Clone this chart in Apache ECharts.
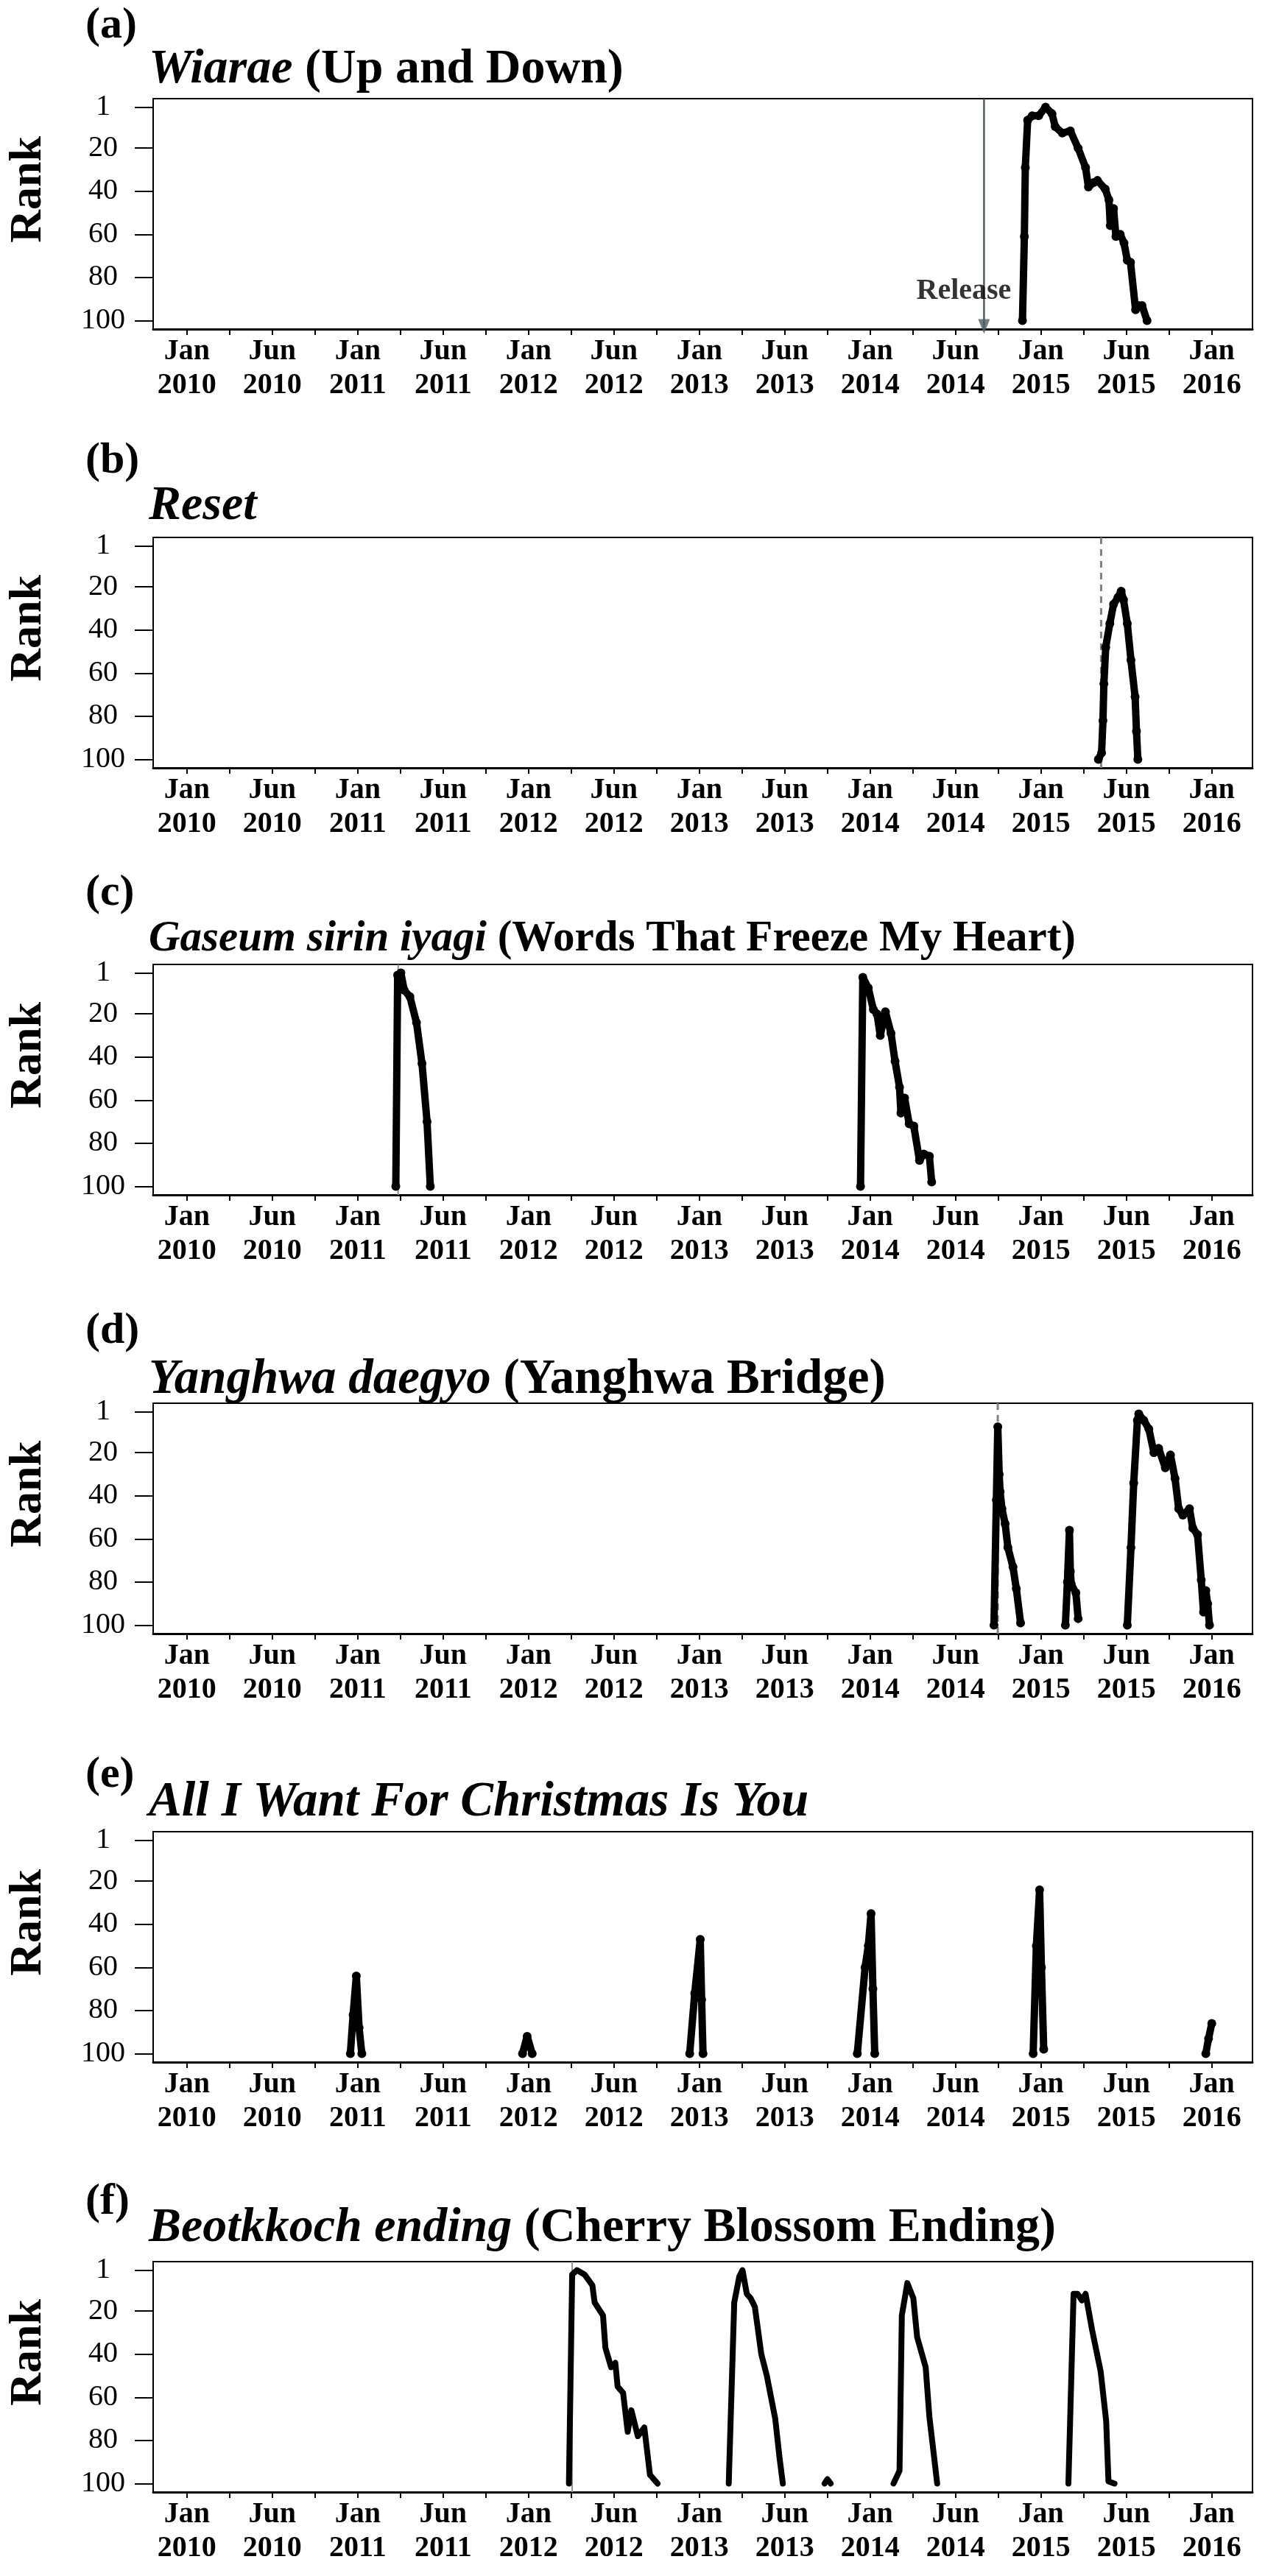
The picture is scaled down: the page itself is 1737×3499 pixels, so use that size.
<!DOCTYPE html>
<html>
<head>
<meta charset="utf-8">
<title>Chart rank trajectories</title>
<script src="https://cdn.jsdelivr.net/npm/echarts@6/dist/echarts.min.js"></script>
<style>body{margin:0;background:#fff}</style>
</head>
<body>
<div id="container" style="width:1737px;height:3499px"></div>
<script>
// ---- data: [date, rank], one array per chart run ----
const aRun1 = [['2014-11-22',100],['2014-11-26',61],['2014-11-28',29],['2014-12-03',7],['2014-12-13',5],['2014-12-27',5],
  ['2015-01-11',1],['2015-01-25',4],['2015-02-01',10],['2015-02-15',13],['2015-03-03',12],['2015-03-20',20],['2015-04-05',29],
  ['2015-04-11',38],['2015-04-22',36],['2015-04-30',35],['2015-05-17',39],['2015-05-25',44],['2015-05-28',56],['2015-06-04',48],
  ['2015-06-09',61],['2015-06-18',60],['2015-06-26',64],['2015-07-03',72],['2015-07-10',73],['2015-07-21',95],['2015-07-27',93],
  ['2015-08-04',93],['2015-08-15',100]];

const bRun1 = [['2015-05-02',100],['2015-05-09',97],['2015-05-12',82],['2015-05-14',65],['2015-05-18',48],['2015-05-27',37],
  ['2015-06-04',28],['2015-06-13',25],['2015-06-20',22],['2015-06-25',26],['2015-07-03',37],['2015-07-11',54],['2015-07-20',71],
  ['2015-07-23',87],['2015-07-26',100]];

const cRun1 = [['2011-03-22',100],['2011-03-26',2],['2011-04-02',1],['2011-04-09',9],['2011-04-21',12],['2011-05-05',24],
  ['2011-05-17',43],['2011-05-28',70],['2011-06-04',100]];
const cRun2 = [['2013-12-11',100],['2013-12-16',3],['2013-12-28',8],['2014-01-08',18],['2014-01-16',20],['2014-01-23',30],
  ['2014-02-03',19],['2014-02-14',29],['2014-02-22',42],['2014-03-03',54],['2014-03-06',66],['2014-03-14',59],['2014-03-24',71],
  ['2014-04-03',72],['2014-04-15',88],['2014-04-24',85],['2014-05-06',86],['2014-05-11',98]];

const dRun1 = [['2014-09-22',100],['2014-09-27',42],['2014-09-30',8],['2014-10-03',30],['2014-10-05',38],['2014-10-09',46],
  ['2014-10-16',53],['2014-10-22',64],['2014-11-02',73],['2014-11-09',83],['2014-11-18',99]];
const dRun2 = [['2015-02-21',100],['2015-02-25',80],['2015-03-01',56],['2015-03-03',75],['2015-03-05',81],['2015-03-15',85],
  ['2015-03-20',97]];
const dRun3 = [['2015-07-03',100],['2015-07-11',64],['2015-07-17',34],['2015-07-25',5],['2015-07-28',2],['2015-08-08',5],
  ['2015-08-19',9],['2015-08-30',20],['2015-09-09',18],['2015-09-23',27],['2015-10-04',21],['2015-10-14',32],['2015-10-22',46],
  ['2015-10-31',49],['2015-11-14',46],['2015-11-21',55],['2015-12-01',58],['2015-12-09',79],['2015-12-14',94],['2015-12-19',84],
  ['2015-12-23',90],['2015-12-27',100]];

const eRun1 = [['2010-12-16',100],['2010-12-22',82],['2010-12-29',64],['2011-01-04',88],['2011-01-10',100]];
const eRun2 = [['2011-12-19',100],['2011-12-29',92],['2012-01-09',100]];
const eRun3 = [['2012-12-11',100],['2012-12-22',72],['2013-01-03',47],['2013-01-06',75],['2013-01-09',100]];
const eRun4 = [['2013-12-04',100],['2013-12-21',60],['2013-12-28',50],['2014-01-03',35],['2014-01-07',70],['2014-01-11',100]];
const eRun5 = [['2014-12-15',100],['2014-12-22',50],['2014-12-29',24],['2015-01-02',60],['2015-01-07',98]];
const eRun6 = [['2015-12-19',100],['2015-12-25',93],['2016-01-01',86]];

const fRun1 = [['2012-03-27',100],['2012-04-03',3],['2012-04-13',1],['2012-04-29',3],['2012-05-16',8],['2012-05-21',16],
  ['2012-06-08',22],['2012-06-13',37],['2012-06-25',46],['2012-07-04',44],['2012-07-09',55],['2012-07-21',58],['2012-07-31',76],
  ['2012-08-08',66],['2012-08-22',78],['2012-09-05',74],['2012-09-17',96],['2012-10-03',100]];
const fRun2 = [['2013-03-03',100],['2013-03-15',16],['2013-03-26',4],['2013-04-02',1],['2013-04-11',12],['2013-04-19',14],
  ['2013-04-28',18],['2013-05-12',40],['2013-05-24',50],['2013-06-11',70],['2013-06-20',88],['2013-06-27',100]];
const fRun3 = [['2013-09-25',100],['2013-10-01',98],['2013-10-08',100]];
const fRun4 = [['2014-02-19',100],['2014-03-03',94],['2014-03-08',22],['2014-03-20',7],['2014-04-02',14],['2014-04-10',32],
  ['2014-04-28',46],['2014-05-06',69],['2014-05-23',100]];
const fRun5 = [['2015-02-27',100],['2015-03-10',12],['2015-03-19',12],['2015-03-28',15],['2015-04-05',12],['2015-04-19',29],
  ['2015-05-07',48],['2015-05-19',71],['2015-05-24',99],['2015-06-06',100]];

// release markers
const releaseA = '2014-09-01';
const releaseLabelA = ['2014-07-19', 86.5];
const releaseB = '2015-05-08';
const releaseC = '2011-03-27';
const releaseD = '2014-09-30';
const releaseF = '2012-04-03';

const panelLetters = ['(a)', '(b)', '(c)', '(d)', '(e)', '(f)'];
const titleItalic = ['Wiarae', 'Reset', 'Gaseum sirin iyagi', 'Yanghwa daegyo', 'All I Want For Christmas Is You', 'Beotkkoch ending'];
const titlePlain = ['(Up and Down)', '', '(Words That Freeze My Heart)', '(Yanghwa Bridge)', '', '(Cherry Blossom Ending)'];

const yTicks = [1, 20, 40, 60, 80, 100];
const xLabelMonths = [0, 6, 12, 18, 24, 30, 36, 42, 48, 54, 60, 66, 72];
const xLabels = ['Jan\n2010', 'Jun\n2010', 'Jan\n2011', 'Jun\n2011', 'Jan\n2012', 'Jun\n2012', 'Jan\n2013',
  'Jun\n2013', 'Jan\n2014', 'Jun\n2014', 'Jan\n2015', 'Jun\n2015', 'Jan\n2016'];
const xTickMonths = [0, 3, 6, 9, 12, 15, 18, 21, 24, 27, 30, 33, 36, 39, 42, 45, 48, 51, 54, 57, 60, 63, 66, 69, 72];

const panelRuns = [[aRun1], [bRun1], [cRun1, cRun2], [dRun1, dRun2, dRun3],
  [eRun1, eRun2, eRun3, eRun4, eRun5, eRun6], [fRun1, fRun2, fRun3, fRun4, fRun5]];

// ---- layout ----
const gridTops = [134, 730, 1310, 1906, 2488, 3072];
const letterTops = [5, 596, 1183, 1778, 2381, 2961];
const titleSizes = [66, 66, 59, 67, 67, 66];
const titleBaselines = [116, 709, 1294, 1896, 2470, 3048];
const FONT = '"Liberation Serif", "Times New Roman", serif';
const Y_MIN = -2.96, Y_MAX = 103.96, X_MIN = -2.37, X_MAX = 74.86;

// months since Jan 2010
function toMonths(s) {
  const p = s.split('-').map(Number);
  const dim = new Date(p[0], p[1], 0).getDate();
  return (p[0] - 2010) * 12 + (p[1] - 1) + (p[2] - 1) / dim;
}

const grid = [], xAxis = [], yAxis = [], title = [], series = [];

panelRuns.forEach(function (runs, i) {
  grid.push({left: 200, right: 36, top: gridTops[i], height: 313, show: true,
    borderColor: '#000', borderWidth: 2, backgroundColor: '#fff'});
  xAxis.push({
    type: 'value', gridIndex: i, min: X_MIN, max: X_MAX, splitLine: {show: false},
    axisLine: {show: true, onZero: false, lineStyle: {color: '#000', width: 3}},
    axisTick: {show: true, customValues: xTickMonths, length: 8, lineStyle: {color: '#000', width: 2}},
    axisLabel: {customValues: xLabelMonths, formatter: function (v) { return xLabels[Math.round(v / 6)]; },
      fontFamily: FONT, fontWeight: 'bold', fontSize: 40, lineHeight: 46, color: '#000', margin: 8}
  });
  yAxis.push({
    type: 'value', gridIndex: i, inverse: true, min: Y_MIN, max: Y_MAX, splitLine: {show: false},
    name: 'Rank', nameLocation: 'middle', nameRotate: 90, nameGap: 138,
    nameTextStyle: {fontFamily: FONT, fontWeight: 'bold', fontSize: 62, color: '#000', padding: [0, 0, 0, 66]},
    axisLine: {show: true, onZero: false, lineStyle: {color: '#000', width: 2}},
    axisTick: {show: true, customValues: yTicks, length: 25, lineStyle: {color: '#000', width: 2}},
    axisLabel: {customValues: yTicks, fontFamily: FONT, fontSize: 40, color: '#000', align: 'center', margin: 68}
  });
  title.push({left: 116, top: letterTops[i], padding: 0, text: panelLetters[i],
    textStyle: {fontFamily: FONT, fontWeight: 'bold', fontSize: 60, lineHeight: 60, color: '#000'}});
  const fs = titleSizes[i];
  title.push({left: 202, top: titleBaselines[i] - Math.round(0.82 * fs), padding: 0,
    text: '{i|' + titleItalic[i] + '}' + (titlePlain[i] ? ' {b|' + titlePlain[i] + '}' : ''),
    textStyle: {fontFamily: FONT, fontWeight: 'bold', fontSize: fs, lineHeight: fs, color: '#000',
      rich: {
        i: {fontFamily: FONT, fontStyle: 'italic', fontWeight: 'bold', fontSize: fs, lineHeight: fs, color: '#000'},
        b: {fontFamily: FONT, fontWeight: 'bold', fontSize: fs, lineHeight: fs, color: '#000'}
      }}});

  const last = i === 5;
  runs.forEach(function (run) {
    series.push({
      type: 'line', xAxisIndex: i, yAxisIndex: i, z: 3,
      data: run.map(function (p) { return [toMonths(p[0]), p[1]]; }),
      showSymbol: !last, symbol: 'circle', symbolSize: last ? 0 : 12,
      itemStyle: {color: '#000'},
      lineStyle: {color: '#000', width: last ? 8 : 10, cap: 'round', join: 'round'}
    });
  });
});

function vline(date, i, style) {
  const x = toMonths(date);
  return {type: 'line', xAxisIndex: i, yAxisIndex: i, z: 2, silent: true, symbol: 'none',
    data: [[x, Y_MIN], [x, Y_MAX]], lineStyle: style};
}

// (a) release line, arrowhead and label
series.push(vline(releaseA, 0, {color: '#4f5d64', width: 2.5}));
series.push({
  type: 'scatter', xAxisIndex: 0, yAxisIndex: 0, z: 2, silent: true,
  data: [[toMonths(releaseA), 100]],
  symbol: 'triangle', symbolRotate: 180, symbolSize: [16, 20], symbolOffset: [0, 8],
  itemStyle: {color: '#4f5d64'}
});
series.push({
  type: 'scatter', xAxisIndex: 0, yAxisIndex: 0, z: 4, silent: true,
  data: [[toMonths(releaseLabelA[0]), releaseLabelA[1]]],
  symbolSize: 0,
  label: {show: true, position: 'inside', formatter: 'Release', fontFamily: FONT, fontWeight: 'bold',
    fontSize: 40, color: '#000'}
});
series.push(vline(releaseB, 1, {color: '#808080', width: 3, type: [9, 7]}));
series.push(vline(releaseC, 2, {color: '#909090', width: 2}));
series.push(vline(releaseD, 3, {color: '#808080', width: 3, type: [9, 7]}));
series.push(vline(releaseF, 5, {color: '#909090', width: 2}));

const chart = echarts.init(document.getElementById('container'));
chart.setOption({
  backgroundColor: '#fff',
  animation: false,
  title: title,
  grid: grid,
  xAxis: xAxis,
  yAxis: yAxis,
  series: series
});
</script>
</body>
</html>
